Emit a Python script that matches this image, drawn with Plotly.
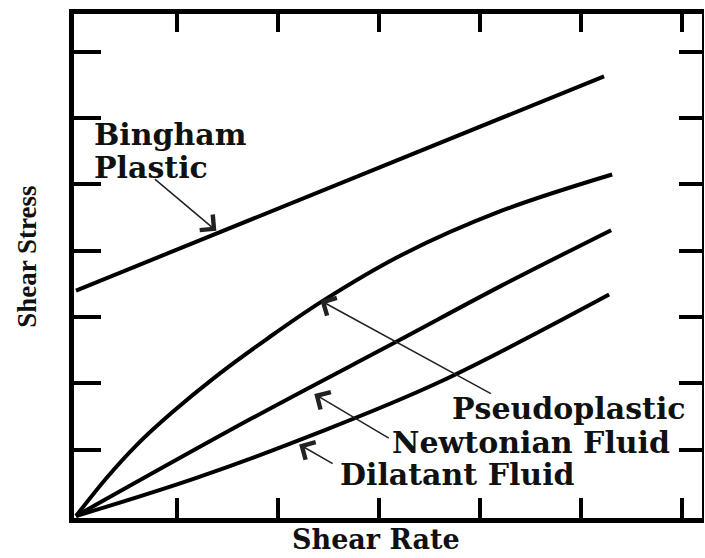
import plotly.graph_objects as go

# ---- data ----
bingham_rate = [0.0, 5.23]
bingham_stress = [3.40, 6.63]

pseudo_rate = [0.0, 0.30, 0.60, 0.95, 1.39, 1.90, 2.44, 3.23, 4.21, 5.31]
pseudo_stress = [0.0, 0.57, 1.07, 1.56, 2.11, 2.68, 3.24, 3.94, 4.60, 5.15]

newton_rate = [0.0, 1.75, 3.20, 4.21, 5.30]
newton_stress = [0.0, 1.48, 2.65, 3.47, 4.31]

dilatant_rate = [0.0, 1.20, 2.44, 3.60, 5.28]
dilatant_stress = [0.0, 0.58, 1.28, 2.02, 3.34]

x_ticks = [1, 2, 3, 4, 5, 6]
y_ticks = [1, 2, 3, 4, 5, 6, 7]
X_RANGE = [-0.02, 6.20]
Y_RANGE = [-0.03, 7.57]

fig = go.Figure()
for xs, ys, name in [
    (bingham_rate, bingham_stress, "Bingham Plastic"),
    (pseudo_rate, pseudo_stress, "Pseudoplastic"),
    (newton_rate, newton_stress, "Newtonian Fluid"),
    (dilatant_rate, dilatant_stress, "Dilatant Fluid"),
]:
    fig.add_trace(go.Scatter(x=xs, y=ys, mode="lines", name=name,
                             line=dict(color="black", width=4, shape="spline", smoothing=1.0),
                             hoverinfo="skip", showlegend=False))

# dummy trace to activate the mirrored (top/right) axes
fig.add_trace(go.Scatter(x=[None], y=[None], xaxis="x2", yaxis="y2",
                         mode="lines", showlegend=False, hoverinfo="skip"))

label_font = dict(family="DejaVu Serif", size=30, color="#111111", weight="bold")

annotations = [
    dict(x=0.157, y=5.76, text="Bingham", xanchor="left", yanchor="middle"),
    dict(x=0.157, y=5.25, text="Plastic", xanchor="left", yanchor="middle"),
    dict(x=3.70, y=1.62, text="Pseudoplastic", xanchor="left", yanchor="middle"),
    dict(x=3.11, y=1.11, text="Newtonian Fluid", xanchor="left", yanchor="middle"),
    dict(x=2.59, y=0.63, text="Dilatant Fluid", xanchor="left", yanchor="middle"),
]
for a in annotations:
    fig.add_annotation(xref="x", yref="y", showarrow=False, font=label_font, **a)

# arrows: tip in data units, tail as pixel offset
arrows = [
    (1.39, 4.30, -63, -53),
    (2.42, 3.25, 172, 94),
    (2.36, 1.84, 76, 45),
    (2.21, 1.08, 35, 20),
]
for tx, ty, ax, ay in arrows:
    fig.add_annotation(x=tx, y=ty, xref="x", yref="y", ax=ax, ay=ay,
                       text="", showarrow=True, arrowhead=4, arrowsize=2.6,
                       arrowwidth=1.5, arrowcolor="#222222")

# axis titles
fig.add_annotation(x=0.481, y=-0.077, xref="paper", yref="paper", text="Shear Rate",
                   showarrow=False, xanchor="center", yanchor="bottom",
                   font=dict(family="DejaVu Serif", size=27, color="#111111", weight="bold"))
fig.add_annotation(x=-0.075, y=0.518, xref="paper", yref="paper", text="Shear Stress",
                   showarrow=False, textangle=-90, xanchor="center", yanchor="middle",
                   font=dict(family="Liberation Serif", size=27, color="#111111", weight="bold"))

common_x = dict(range=X_RANGE, tickvals=x_ticks, ticks="inside", tickwidth=4,
                tickcolor="black", showticklabels=False, showgrid=False, zeroline=False,
                showline=True, linecolor="black", fixedrange=True)
common_y = dict(range=Y_RANGE, tickvals=y_ticks, ticks="inside", tickwidth=4,
                tickcolor="black", showticklabels=False, showgrid=False, zeroline=False,
                showline=True, linecolor="black", fixedrange=True)

fig.update_layout(
    width=705, height=558,
    margin=dict(l=74, r=3, t=14, b=40),
    paper_bgcolor="white", plot_bgcolor="white",
    showlegend=False,
    xaxis=dict(**common_x, ticklen=20, linewidth=5, side="bottom", anchor="y"),
    xaxis2=dict(**common_x, ticklen=18, linewidth=5, side="top", overlaying="x", anchor="y"),
    yaxis=dict(**common_y, ticklen=27, linewidth=5, side="left", anchor="x"),
    yaxis2=dict(**common_y, ticklen=23, linewidth=1.5, side="right", overlaying="y", anchor="x"),
)

fig.write_html(
    "out.html",
    config={"displayModeBar": False},
    post_script="document.body.style.margin='0';document.body.style.overflow='hidden';",
)
